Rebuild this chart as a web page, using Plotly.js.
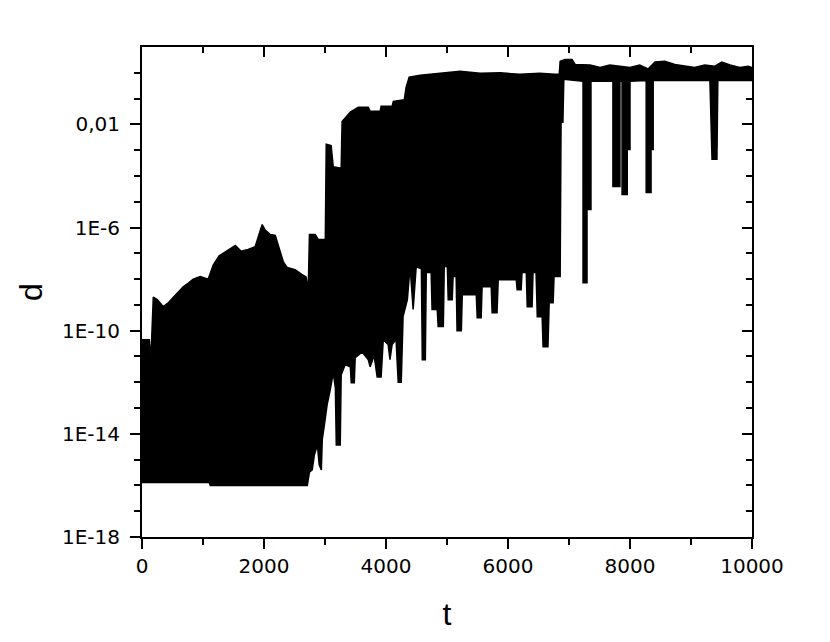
<!DOCTYPE html>
<html>
<head>
<meta charset="utf-8">
<script src="https://cdn.plot.ly/plotly-3.0.1.min.js"></script>
<style>html,body{margin:0;padding:0;background:#fff;}#chart{width:830px;height:642px;}</style>
</head>
<body>
<div id="chart"></div>
<script>
// Upper envelope of the dense d(t) trajectory
var upperT = [0, 120, 145, 185, 250, 350, 430, 515, 595, 675, 760, 840, 955, 1085, 1170, 1265, 1380, 1530, 1625, 1740, 1855, 1940, 1970, 2020, 2100, 2185, 2250, 2315, 2380, 2510, 2625, 2690, 2725, 2745, 2840, 2890, 2970, 3005, 3020, 3100, 3135, 3265, 3280, 3415, 3545, 3710, 3740, 3905, 3920, 4100, 4120, 4300, 4330, 4380, 4560, 4890, 5215, 5545, 5870, 6195, 6520, 6770, 6840, 6855, 6935, 7050, 7100, 7345, 7510, 7670, 7835, 8000, 8160, 8295, 8410, 8570, 8735, 8900, 9060, 9225, 9390, 9505, 9640, 9800, 9935, 10000];
var upperD = [4.5e-11, 4.5e-11, 7e-12, 2e-9, 1.6e-9, 8.5e-10, 1.2e-9, 2e-9, 3.2e-9, 5e-9, 7e-9, 1e-8, 1.25e-8, 1e-8, 3.6e-8, 8e-8, 1.2e-7, 2e-7, 1.2e-7, 1.4e-7, 1.8e-7, 7e-7, 1.3e-6, 8e-7, 5.4e-7, 5e-7, 1.4e-7, 4.8e-8, 2.8e-8, 2.3e-8, 1.5e-8, 1.2e-8, 3.9e-9, 5.4e-7, 5.4e-7, 3.4e-7, 3.4e-7, 3.4e-7, 1.7e-3, 1.5e-3, 2.3e-4, 2e-4, 1.3e-2, 3e-2, 4.6e-2, 4.6e-2, 3.2e-2, 3.2e-2, 5e-2, 5e-2, 7.8e-2, 9e-2, 0.28, 0.68, 0.8, 0.95, 1.15, 0.95, 1.0, 0.87, 0.95, 0.87, 0.87, 2.8, 3.3, 3.3, 2.1, 2.0, 1.6, 2.0, 1.8, 1.6, 2.0, 1.4, 2.6, 2.8, 2.1, 1.8, 1.6, 2.0, 1.8, 2.6, 2.0, 1.6, 1.8, 1.6];

// Lower envelope (left to right), including the downward spikes
var lowerT = [0, 1100, 1120, 2710, 2745, 2790, 2825, 2875, 2905, 2940, 2955, 2990, 3035, 3085, 3135, 3170, 3185, 3250, 3265, 3330, 3415, 3430, 3480, 3495, 3610, 3710, 3740, 3805, 3855, 3920, 3955, 4035, 4065, 4100, 4165, 4200, 4250, 4280, 4350, 4395, 4445, 4495, 4580, 4595, 4645, 4660, 4740, 4755, 4840, 4855, 4940, 4955, 5005, 5020, 5085, 5100, 5150, 5165, 5235, 5250, 5480, 5495, 5560, 5575, 5725, 5740, 5820, 5840, 6135, 6150, 6215, 6230, 6300, 6315, 6395, 6410, 6460, 6480, 6560, 6575, 6655, 6675, 6740, 6755, 6855, 6870, 6900, 6915, 7230, 7230, 7295, 7295, 7360, 7360, 7720, 7720, 7835, 7835, 7870, 7870, 7955, 7955, 8000, 8000, 8265, 8265, 8345, 8345, 8380, 8380, 9310, 9330, 9345, 9425, 9430, 9440, 10000];
var lowerD = [1.3e-16, 1.3e-16, 1e-16, 1e-16, 3.3e-16, 4e-16, 1.5e-15, 3.7e-15, 6.3e-16, 4e-16, 5.9e-15, 2.2e-14, 1.35e-13, 5e-13, 2.3e-12, 6e-13, 3.7e-15, 3.7e-15, 1.9e-12, 4.8e-12, 4e-12, 9.5e-13, 9.5e-13, 9e-12, 1.5e-11, 7.5e-12, 4e-12, 1.1e-11, 1.6e-12, 1.6e-12, 4.5e-11, 2.9e-11, 7.5e-12, 2.9e-11, 4.5e-11, 1e-12, 1e-12, 3.5e-10, 1.6e-9, 3.1e-8, 6.6e-10, 3e-8, 2.5e-8, 7.5e-12, 7.5e-12, 1.8e-8, 1.8e-8, 6.6e-10, 6.6e-10, 1.45e-10, 1.45e-10, 3.1e-8, 3.1e-8, 1.6e-9, 1.6e-9, 1.26e-8, 1.26e-8, 1e-10, 1e-10, 2.5e-9, 2.5e-9, 3.2e-10, 3.2e-10, 5e-9, 5e-9, 5e-10, 5e-10, 9.5e-9, 9.5e-9, 3.9e-9, 3.9e-9, 1.8e-8, 1.8e-8, 8.5e-10, 8.5e-10, 1.8e-8, 1.8e-8, 3.5e-10, 3.5e-10, 2.4e-11, 2.4e-11, 1.2e-9, 1.2e-9, 1.26e-8, 1.26e-8, 1.2e-2, 1.2e-2, 0.56, 0.47, 7.2e-9, 7.2e-9, 5e-6, 5e-6, 0.47, 0.47, 3.9e-5, 3.9e-5, 0.47, 0.47, 1.9e-5, 1.9e-5, 1.07e-3, 1.07e-3, 0.47, 0.5, 2.3e-5, 2.3e-5, 1.07e-3, 1.07e-3, 0.5, 0.5, 1.5e-2, 4.4e-4, 4.4e-4, 1.5e-2, 0.5, 0.5];

// Axis ticks
var xTickVals = [0, 2000, 4000, 6000, 8000, 10000];
var xTickText = ['0', '2000', '4000', '6000', '8000', '10000'];
var xMinorVals = [1000, 3000, 5000, 7000, 9000];
var yTickVals = [1e-18, 1e-14, 1e-10, 1e-6, 1e-2];
var yTickText = ['1E-18', '1E-14', '1E-10', '1E-6', '0,01'];
var yMinorVals = [1e-17, 1e-16, 1e-15, 1e-13, 1e-12, 1e-11, 1e-9, 1e-8, 1e-7, 1e-5, 1e-4, 1e-3, 1e-1, 1];

var polyX = upperT.concat(lowerT.slice().reverse());
var polyY = upperD.concat(lowerD.slice().reverse());

var traces = [
  {
    type: 'scatter', mode: 'lines', x: polyX, y: polyY,
    fill: 'toself', fillcolor: '#000000',
    line: {color: '#000000', width: 1.5},
    hoverinfo: 'skip', showlegend: false
  },
  {
    type: 'scatter', mode: 'markers', x: [upperT[0]], y: [upperD[0]],
    xaxis: 'x2', yaxis: 'y2', marker: {opacity: 0},
    hoverinfo: 'skip', showlegend: false
  }
];

var tickFont = {family: 'DejaVu Sans, Arial, sans-serif', size: 20, color: '#000'};
var titleFont = {family: 'Liberation Sans, Arial, sans-serif', size: 32, color: '#000'};

var layout = {
  width: 830, height: 642,
  margin: {l: 142, r: 78, t: 47, b: 105, pad: 0},
  paper_bgcolor: '#fff', plot_bgcolor: '#fff',
  showlegend: false,
  xaxis: {
    range: [0, 10000], showgrid: false, zeroline: false,
    showline: true, linecolor: '#000', linewidth: 2,
    ticks: 'outside', ticklen: 10, tickwidth: 2, tickcolor: '#000',
    tickmode: 'array', tickvals: xTickVals, ticktext: xTickText,
    tickfont: tickFont, ticklabelstandoff: 0,
    minor: {tickmode: 'array', tickvals: xMinorVals, ticks: 'outside', ticklen: 6, tickwidth: 2, tickcolor: '#000', showgrid: false},
    title: {text: 't', font: titleFont, standoff: 26}
  },
  yaxis: {
    type: 'log', range: [-18, 1], showgrid: false, zeroline: false,
    showline: true, linecolor: '#000', linewidth: 2,
    ticks: 'outside', ticklen: 10, tickwidth: 2, tickcolor: '#000',
    tickmode: 'array', tickvals: yTickVals, ticktext: yTickText,
    tickfont: tickFont, ticklabelstandoff: 6,
    minor: {tickmode: 'array', tickvals: yMinorVals, ticks: 'outside', ticklen: 6, tickwidth: 2, tickcolor: '#000', showgrid: false},
    title: {text: 'd', font: titleFont, standoff: 10}
  },
  xaxis2: {
    overlaying: 'x', side: 'top', anchor: 'y', range: [0, 10000],
    showgrid: false, zeroline: false, showline: true, linecolor: '#000', linewidth: 2,
    ticks: 'inside', ticklen: 10, tickwidth: 2, tickcolor: '#000',
    tickmode: 'array', tickvals: xTickVals, showticklabels: false,
    minor: {tickmode: 'array', tickvals: xMinorVals, ticks: 'inside', ticklen: 6, tickwidth: 2, tickcolor: '#000', showgrid: false}
  },
  yaxis2: {
    overlaying: 'y', side: 'right', anchor: 'x', type: 'log', range: [-18, 1],
    showgrid: false, zeroline: false, showline: true, linecolor: '#000', linewidth: 2,
    ticks: 'inside', ticklen: 10, tickwidth: 2, tickcolor: '#000',
    tickmode: 'array', tickvals: yTickVals, showticklabels: false,
    minor: {tickmode: 'array', tickvals: yMinorVals, ticks: 'inside', ticklen: 6, tickwidth: 2, tickcolor: '#000', showgrid: false}
  }
};

Plotly.newPlot('chart', traces, layout, {staticPlot: true, displayModeBar: false});
</script>
</body>
</html>
